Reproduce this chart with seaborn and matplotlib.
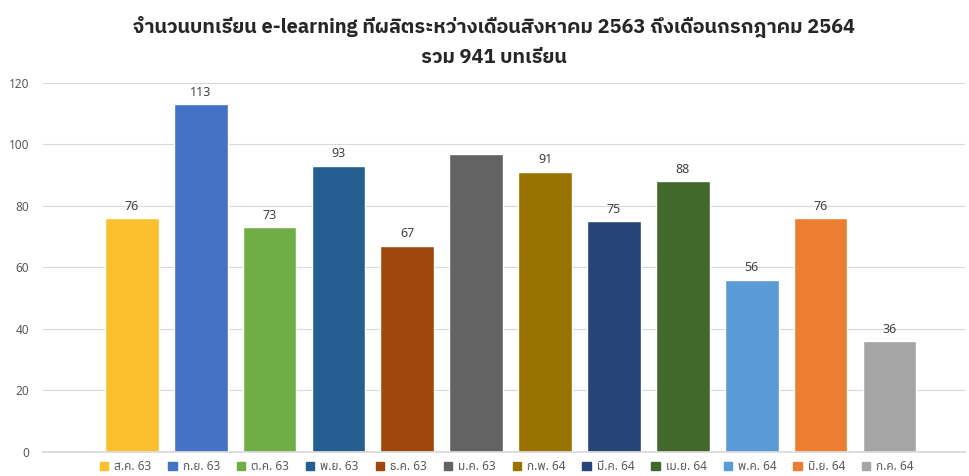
import matplotlib
matplotlib.use('Agg')
import matplotlib.pyplot as plt
from matplotlib.patches import Patch
import seaborn as sns
import pandas as pd

# ข้อมูล
months = ['ส.ค. 63', 'ก.ย. 63', 'ต.ค. 63', 'พ.ย. 63', 'ธ.ค. 63', 'ม.ค. 63',
          'ก.พ. 64', 'มี.ค. 64', 'เม.ย. 64', 'พ.ค. 64', 'มิ.ย. 64', 'ก.ค. 64']
lessons = [76, 113, 73, 93, 67, 97, 91, 75, 88, 56, 76, 36]
show_label = [True, True, True, True, True, False, True, True, True, True, True, True]
bar_colors = ['#FCC02E', '#4472C4', '#70AD47', '#255E91', '#9E480E', '#636363',
              '#997300', '#264478', '#43682B', '#5B9BD5', '#ED7D31', '#A5A5A5']
title_lines = ['จำนวนบทเรียน e-learning ที่ผลิตระหว่างเดือนสิงหาคม 2563 ถึงเดือนกรกฎาคม 2564',
               'รวม 941 บทเรียน']

sns.set_theme(style='white')
plt.rcParams['font.family'] = ['Noto Sans Thai', 'DejaVu Sans']

df = pd.DataFrame({'month': months, 'lessons': lessons})

fig = plt.figure(figsize=(9.69, 4.76), dpi=100)
ax = fig.add_axes([0.0444, 0.0504, 0.9516, 0.7756])

sns.barplot(data=df, x='month', y='lessons', hue='month',
            palette=dict(zip(months, bar_colors)), width=0.78,
            saturation=1, legend=False, ax=ax)

for cont, val, show in zip(ax.containers, lessons, show_label):
    ax.bar_label(cont, labels=[str(val) if show else ''], padding=4,
                 fontsize=9, color='#404040')

ax.set_ylim(0, 120)
ax.set_xlim(-1.29, 12.1)
ax.set_yticks(range(0, 121, 20))
ax.set_xticks([])
ax.set_xlabel('')
ax.set_ylabel('')
ax.tick_params(axis='y', labelsize=8.5, labelcolor='#595959', length=0, pad=10)
ax.yaxis.grid(True, color='#D9D9D9', linewidth=0.8)
ax.set_axisbelow(True)
for s in ['top', 'right', 'left']:
    ax.spines[s].set_visible(False)
ax.spines['bottom'].set_color('#D9D9D9')

handles = [Patch(color=c, label=m) for m, c in zip(months, bar_colors)]
ax.legend(handles=handles, loc='upper center', bbox_to_anchor=(0.503, 0.0),
          ncol=12, frameon=False, fontsize=8.5, handlelength=0.7,
          handleheight=0.7, handletextpad=0.5, columnspacing=1.45,
          labelcolor='#595959', borderpad=0.2)

title_font = ['IBM Plex Sans Thai', 'Noto Sans Thai', 'DejaVu Sans']
fig.text(0.51, 0.943, title_lines[0], ha='center', va='center', family=title_font,
         fontsize=14.3, fontweight='bold', color='#262626')
fig.text(0.51, 0.88, title_lines[1], ha='center', va='center', family=title_font,
         fontsize=14.3, fontweight='bold', color='#262626')

fig.savefig('out.png', dpi=100)
